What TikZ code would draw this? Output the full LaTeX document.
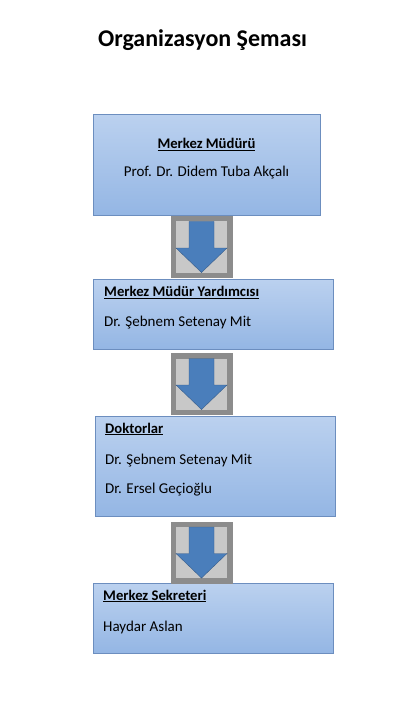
\documentclass[tikz,border=0pt]{standalone}
\usepackage{fontspec}
\setmainfont{Carlito}
\usepackage{tikz}
\usetikzlibrary{calc}
\usetikzlibrary{shapes.geometric, arrows}
\usetikzlibrary{backgrounds}
\definecolor{boxtop}{RGB}{187,209,239}
\definecolor{boxbottom}{RGB}{148,182,228}
\definecolor{boxline}{RGB}{108,142,191}
\definecolor{arrowblue}{RGB}{74,126,187}
\definecolor{arrowline}{RGB}{56,93,138}
\definecolor{squaredark}{RGB}{140,140,140}
\definecolor{squarelight}{RGB}{200,200,200}
\tikzstyle{unitbox} = [draw=boxline, top color=boxtop, bottom color=boxbottom, anchor=north west, inner sep=0pt]
\tikzstyle{graysquare} = [fill=squaredark, minimum size=62pt, inner sep=0pt]
\tikzstyle{lightsquare} = [fill=squarelight]
\tikzstyle{blockarrow} = [draw=arrowline, fill=arrowblue, line join=miter]
\tikzstyle{headtext} = [font=\fontsize{14.67}{17}\selectfont\bfseries, anchor=base west, inner sep=0pt]
\tikzstyle{nametext} = [font=\fontsize{15}{17}\selectfont, anchor=base west, inner sep=0pt]

\begin{document}
\begin{tikzpicture}[x=1pt, y=-1pt]
    \useasboundingbox (0,0) rectangle (401,711);
    \node[font=\fontsize{24}{28}\selectfont\bfseries, anchor=base, inner sep=0pt] (title) at (202.5,47) {Organizasyon Şeması};

    % boxes
    \node[unitbox, minimum width=227pt, minimum height=101pt] (mudur) at (93,114) {};
    \node[unitbox, minimum width=240pt, minimum height=70pt] (yardimci) at (93,279) {};
    \node[unitbox, minimum width=240pt, minimum height=100pt] (doktor) at (95,416) {};
    \node[unitbox, minimum width=240pt, minimum height=70pt] (sekreter) at (93,583) {};

    % texts
    \node[headtext, anchor=base] (mudurT) at ($(mudur.north west) + (113.5,35)$) {\underline{Merkez Müdürü}};
    \node[nametext, anchor=base] (mudurN) at ($(mudur.north west) + (113.5,62.5)$) {Prof. Dr. Didem Tuba Akçalı};
    \node[headtext] (yardimciT) at ($(yardimci.north west) + (11,17.5)$) {\underline{Merkez Müdür Yardımcısı}};
    \node[nametext] (yardimciN) at ($(yardimci.north west) + (11,47.5)$) {Dr. Şebnem Setenay Mit};
    \node[headtext] (doktorT) at ($(doktor.north west) + (10,17)$) {\underline{Doktorlar}};
    \node[nametext] (doktor1) at ($(doktor.north west) + (10,48)$) {Dr. Şebnem Setenay Mit};
    \node[nametext] (doktor2) at ($(doktor.north west) + (10,77)$) {Dr. Ersel Geçioğlu};
    \node[headtext] (sekreterT) at ($(sekreter.north west) + (10,17)$) {\underline{Merkez Sekreteri}};
    \node[nametext] (sekreterN) at ($(sekreter.north west) + (10,48)$) {Haydar Aslan};

    % arrows
    \node[graysquare] (down1) at (201.5,247) {};
    \fill[lightsquare] ($(down1) + (-25.5,-25.5)$) rectangle ($(down1) + (25.5,25.5)$);
    \draw[blockarrow] ($(down1) + (-12.5,-25.5)$) -- ($(down1) + (12.5,-25.5)$) -- ($(down1) + (12.5,1)$) -- ($(down1) + (25.5,1)$) -- ($(down1) + (0,25.5)$) -- ($(down1) + (-25.5,1)$) -- ($(down1) + (-12.5,1)$) -- cycle;

    \node[graysquare] (down2) at (201.5,384) {};
    \fill[lightsquare] ($(down2) + (-25.5,-25.5)$) rectangle ($(down2) + (25.5,25.5)$);
    \draw[blockarrow] ($(down2) + (-12.5,-25.5)$) -- ($(down2) + (12.5,-25.5)$) -- ($(down2) + (12.5,1)$) -- ($(down2) + (25.5,1)$) -- ($(down2) + (0,25.5)$) -- ($(down2) + (-25.5,1)$) -- ($(down2) + (-12.5,1)$) -- cycle;

    \node[graysquare] (down3) at (201.5,552.5) {};
    \fill[lightsquare] ($(down3) + (-25.5,-25.5)$) rectangle ($(down3) + (25.5,25.5)$);
    \draw[blockarrow] ($(down3) + (-12.5,-25.5)$) -- ($(down3) + (12.5,-25.5)$) -- ($(down3) + (12.5,1)$) -- ($(down3) + (25.5,1)$) -- ($(down3) + (0,25.5)$) -- ($(down3) + (-25.5,1)$) -- ($(down3) + (-12.5,1)$) -- cycle;

\end{tikzpicture}
\end{document}
